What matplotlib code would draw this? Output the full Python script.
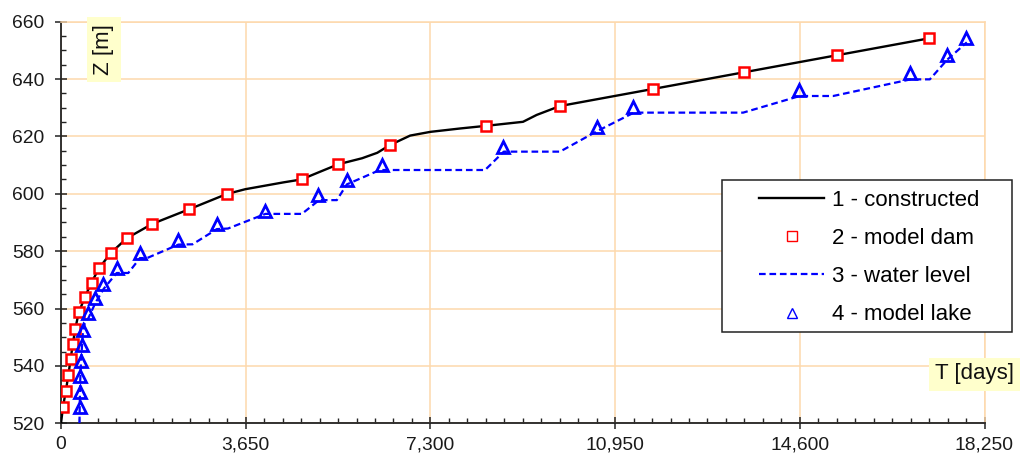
import matplotlib
matplotlib.use('Agg')
import matplotlib.pyplot as plt
from matplotlib.ticker import MultipleLocator, FuncFormatter
from matplotlib.patches import Rectangle

plt.rcParams['font.family'] = ['Liberation Sans', 'DejaVu Sans']

# ---- data (T in days, Z in m) ----
constructed_t = [0, 40, 95, 145, 190, 232, 280, 350, 470, 600, 750, 980, 1300, 1800,
                 2530, 3270, 3640, 4400, 4750, 5120, 5480, 5950, 6250, 6500, 6900,
                 7300, 7900, 8400, 9130, 9400, 9860, 17154]
constructed_z = [520, 525.8, 531.2, 536.8, 542.3, 547.5, 552.7, 558.6, 563.9, 569.0,
                 574.0, 579.3, 584.5, 589.5, 594.6, 599.9, 601.6, 604.0, 605.0, 607.7,
                 610.3, 612.4, 614.3, 617.0, 620.3, 621.6, 622.8, 623.7, 625.1, 627.5,
                 630.6, 654.2]

dam_t = [45, 95, 145, 190, 232, 280, 350, 480, 605, 750, 985, 1300, 1805, 2530, 3275,
         4755, 5480, 6500, 8395, 9860, 11690, 13505, 15330, 17155]
dam_z = [525.8, 531.2, 536.8, 542.3, 547.5, 552.7, 558.7, 563.9, 569.0, 574.0, 579.3,
         584.5, 589.5, 594.6, 599.9, 605.0, 610.3, 617.0, 623.7, 630.6, 636.5, 642.5,
         648.4, 654.2]

water_t = [365, 372, 380, 392, 410, 430, 470, 545, 680, 840, 1100, 1330, 1560, 1700,
           2320, 2600, 3080, 3300, 4040, 4760, 5100, 5450, 5650, 6300, 8380, 8750,
           9860, 10590, 11320, 13480, 14600, 15260, 16790, 17170, 17510, 17900]
water_z = [520, 528, 535, 540, 545.5, 551, 555, 556.8, 562, 566.8, 572.4, 572.4, 577.6,
           577.6, 582.3, 582.4, 587.7, 587.9, 593.0, 593.0, 597.8, 597.8, 603.3, 608.3,
           608.3, 614.7, 614.7, 621.8, 628.3, 628.3, 634.1, 634.1, 639.9, 639.9, 646.7,
           652.8]

lake_t = [375, 380, 385, 400, 420, 440, 540, 672, 836, 1101, 1561, 2318, 3077, 4032,
          5085, 5646, 6338, 8741, 10587, 11310, 14591, 16779, 17504, 17879]
lake_z = [525.8, 530.8, 536.4, 541.6, 547.2, 552.6, 558.3, 563.6, 568.5, 574.0, 579.3,
          583.9, 589.4, 594.1, 599.6, 604.8, 610.0, 616.4, 623.4, 630.1, 636.2, 642.2,
          648.4, 654.2]

labels = ['1 - constructed', '2 - model dam', '3 - water level', '4 - model lake']

grid_c = '#FDD8AC'
axis_c = '#222222'
fs_tick = 13.9
fs_text = 16

fig = plt.figure(figsize=(10.24, 4.53), dpi=100)
ax = fig.add_axes([61 / 1024, 1 - 423.3 / 453, 923.5 / 1024, 401.6 / 453])

ax.plot(constructed_t, constructed_z, color='black', lw=1.7, label=labels[0], zorder=3)
ax.plot(dam_t, dam_z, ls='none', marker='s', ms=7.4, mfc='white', mec='#FF0000',
        mew=1.8, label=labels[1], zorder=4)
ax.plot(water_t, water_z, color='#0000FF', lw=1.6, dashes=(3.0, 1.7),
        label=labels[2], zorder=3)
ax.plot(lake_t, lake_z, ls='none', marker='^', ms=8.2, mfc='none', mec='#0000FF',
        mew=2.0, label=labels[3], zorder=4)

ax.set_xlim(0, 18250)
ax.set_ylim(520, 660)
ax.xaxis.set_major_locator(MultipleLocator(3650))
ax.xaxis.set_minor_locator(MultipleLocator(365))
ax.yaxis.set_major_locator(MultipleLocator(20))
ax.yaxis.set_minor_locator(MultipleLocator(5))
ax.xaxis.set_major_formatter(FuncFormatter(lambda v, p: f'{int(round(v)):,}'))
ax.yaxis.set_major_formatter(FuncFormatter(lambda v, p: f'{int(round(v))}'))

ax.grid(True, which='major', color=grid_c, lw=1.1)
ax.set_axisbelow(True)
for s in ['top', 'right']:
    ax.spines[s].set_color(grid_c)
    ax.spines[s].set_linewidth(1.1)
for s in ['left', 'bottom']:
    ax.spines[s].set_color(axis_c)
    ax.spines[s].set_linewidth(1.3)

ax.tick_params(which='major', direction='inout', length=9, width=1.1, color=axis_c,
               labelsize=fs_tick, labelcolor='#1a1a1a')
ax.tick_params(axis='x', which='major', pad=5)
ax.tick_params(axis='y', which='major', pad=7.5)
ax.tick_params(which='minor', direction='in', length=3.5, width=1.0, color=axis_c)
ax.tick_params(top=False, right=False, which='both')

# legend with a manually sized frame
frame = Rectangle((722 / 1024, 1 - 332 / 453), 290 / 1024, 152 / 453,
                  transform=fig.transFigure, facecolor='white', edgecolor='#222222',
                  lw=1.1, clip_on=False, zorder=6)
ax.add_patch(frame)
leg = ax.legend(loc='upper left', bbox_to_anchor=(759 / 1024, 1 - 190 / 453),
                bbox_transform=fig.transFigure, frameon=False, fontsize=fs_text,
                handlelength=2.93, handletextpad=0.36, labelspacing=0.77,
                borderpad=0, borderaxespad=0)
leg.set_zorder(7)
for h in leg.legend_handles:
    h.set_markersize(7)
    h.set_markeredgewidth(1.0)

fig.text(104 / 1024, 1 - 49.5 / 453, 'Z [m]', rotation=90, ha='center', va='center',
         fontsize=fs_text, color='#111111',
         bbox=dict(boxstyle='square,pad=0.3', fc='#FFFFCC', ec='none'))
fig.text(974.5 / 1024, 1 - 374 / 453, 'T [days]', ha='center', va='center',
         fontsize=fs_text, color='#111111',
         bbox=dict(boxstyle='square,pad=0.27', fc='#FFFFCC', ec='none'))

fig.savefig('out.png', dpi=100)
